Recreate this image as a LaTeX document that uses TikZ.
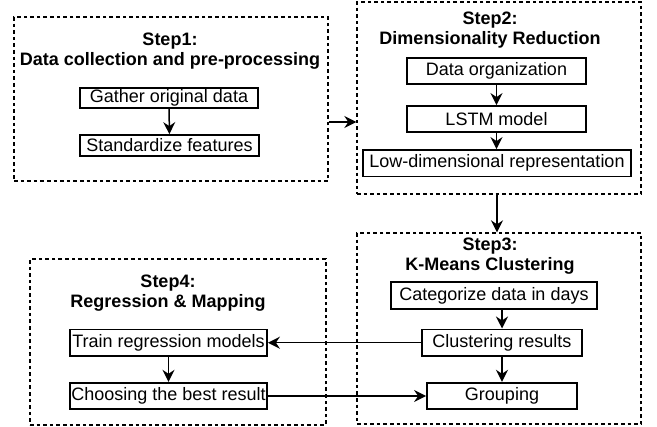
\documentclass[tikz,border=0pt]{standalone}
\usepackage{fontspec}
\setmainfont{Liberation Sans}
\usetikzlibrary{arrows.meta}
\begin{document}
\begin{tikzpicture}[x=0.5pt,y=-0.5pt,
  stepframe/.style={draw, dashed, dash pattern=on 1.8pt off 1.5pt, line width=0.7pt, inner sep=0pt},
  proc/.style={draw, line width=0.9pt, inner sep=0pt, font=\fontsize{9}{10}\selectfont},
  ttl/.style={font=\bfseries\fontsize{9}{10}\selectfont, align=center, inner sep=0pt},
  arr/.style={line width=0.75pt, -{Stealth[length=6pt,width=6pt,inset=2pt]}},
  line/.style={line width=0.7pt}]
\useasboundingbox (0,0) rectangle (657,427);
% step frames
\node[stepframe, minimum width=157pt, minimum height=82pt] (step1) at (171,99) {};
\node[stepframe, minimum width=142pt, minimum height=96pt] (step2) at (499,98) {};
\node[stepframe, minimum width=142pt, minimum height=95.5pt] (step3) at (499,328.5) {};
\node[stepframe, minimum width=148pt, minimum height=83pt] (step4) at (178,342) {};
% titles
\node[ttl] (t1) at (170,51) {Step1:\\Data collection and pre-processing};
\node[ttl] (t2) at (490,30) {Step2:\\Dimensionality Reduction};
\node[ttl] (t3) at (490,256) {Step3:\\K-Means Clustering};
\node[ttl] (t4) at (168,293) {Step4:\\Regression \& Mapping};
% step1 boxes
\node[proc, minimum width=89pt, minimum height=10.2pt] (gather) at (169,98) {Gather original data};
\node[proc, minimum width=89.5pt, minimum height=10.5pt] (stand) at (169.5,145.5) {Standardize features};
% step2 boxes
\node[proc, minimum width=89.5pt, minimum height=13pt] (org) at (496.5,71) {Data organization};
\node[proc, minimum width=89.5pt, minimum height=13pt] (lstm) at (496.5,119) {LSTM model};
\node[proc, minimum width=134pt, minimum height=13.3pt] (lowdim) at (497,163.3) {Low-dimensional representation};
% step3 boxes
\node[proc, minimum width=103pt, minimum height=13.8pt] (cat) at (494,295.5) {Categorize data in days};
\node[proc, minimum width=80pt, minimum height=13.3pt] (clus) at (502,342.7) {Clustering results};
\node[proc, minimum width=75pt, minimum height=13.3pt] (group) at (502,396) {Grouping};
% step4 boxes
\node[proc, minimum width=98.5pt, minimum height=13.3pt] (train) at (168.5,342.7) {Train regression models};
\node[proc, minimum width=98.5pt, minimum height=13.3pt] (choose) at (168.5,396) {Choosing the best result};
% inner arrows
\draw[arr] (gather) -- (stand);
\draw[arr] (org) -- (lstm);
\draw[arr] (lstm) -- (lowdim.north -| lstm);
\draw[arr] (cat.south -| clus) -- (clus);
\draw[arr] (clus) -- (group);
\draw[arr] (train) -- (choose);
% cross arrows
\draw[arr] (step1.east |- 0,122) -- (step2.west |- 0,122);
\draw[arr] (step2.south -| lowdim) -- (step3.north -| lowdim);
\draw[arr] (clus) -- (train);
\draw[arr] (choose) -- (group);
\end{tikzpicture}
\end{document}
